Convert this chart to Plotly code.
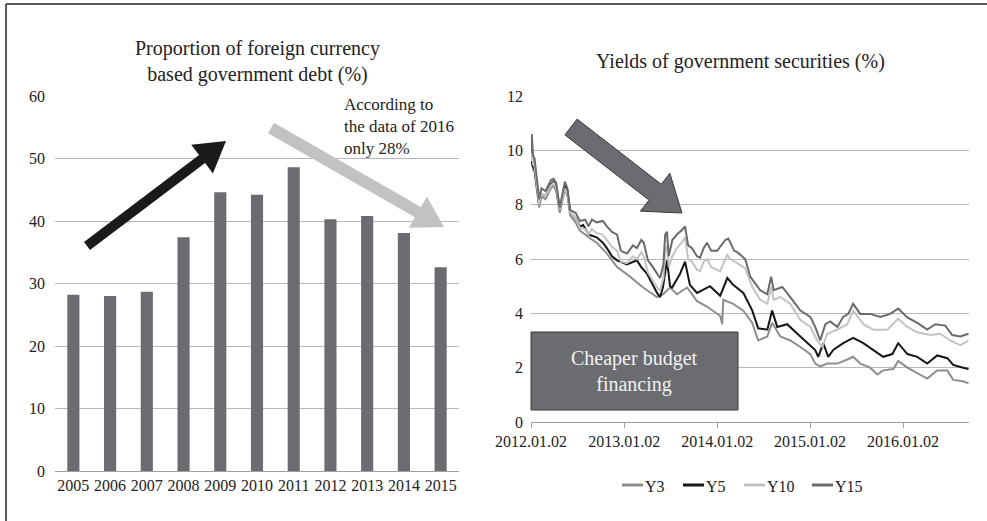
import math
import plotly.graph_objects as go

W, H = 987, 521

# ---------------- data: left chart ----------------
years = ["2005", "2006", "2007", "2008", "2009", "2010", "2011", "2012", "2013", "2014", "2015"]
fx_share = [28.2, 28.0, 28.7, 37.4, 44.6, 44.2, 48.6, 40.3, 40.8, 38.1, 32.6]

# ---------------- data: right chart ----------------
y15_dates = ["2012-01-02", "2012-01-05", "2012-01-10", "2012-01-16", "2012-02-03", "2012-02-12", "2012-02-28",
             "2012-03-20", "2012-03-30", "2012-04-10", "2012-04-24", "2012-05-14", "2012-05-24", "2012-06-04",
             "2012-06-25", "2012-07-12", "2012-08-02", "2012-08-15", "2012-08-28", "2012-09-16", "2012-10-10",
             "2012-10-26", "2012-11-15", "2012-12-05", "2012-12-20", "2013-01-13", "2013-02-05", "2013-02-21",
             "2013-03-10", "2013-03-20", "2013-04-05", "2013-04-25", "2013-05-15", "2013-05-23", "2013-06-05",
             "2013-06-12", "2013-06-19", "2013-06-26", "2013-07-10", "2013-07-28", "2013-08-15", "2013-08-29",
             "2013-09-10", "2013-09-25", "2013-10-15", "2013-10-27", "2013-11-10", "2013-11-23", "2013-12-10",
             "2014-01-02", "2014-01-14", "2014-02-03", "2014-02-15", "2014-02-22", "2014-03-10", "2014-03-22",
             "2014-04-22", "2014-05-12", "2014-06-20", "2014-07-18", "2014-08-02", "2014-08-12", "2014-09-15",
             "2014-10-16", "2014-11-25", "2015-01-03", "2015-01-22", "2015-02-11", "2015-03-03", "2015-03-22",
             "2015-04-19", "2015-05-12", "2015-06-01", "2015-06-20", "2015-07-18", "2015-08-26", "2015-10-05",
             "2015-11-13", "2015-12-14", "2016-01-19", "2016-02-27", "2016-04-06", "2016-05-08", "2016-06-16",
             "2016-07-13", "2016-08-14", "2016-09-15"]
y15_values = [9.9, 10.6, 9.8, 9.7, 8.2, 8.6, 8.5, 8.9, 8.95, 8.8, 7.9, 8.85, 8.6, 7.8,
              7.7, 7.4, 7.45, 7.2, 7.45, 7.35, 7.4, 7.2, 7.0, 6.9, 6.3, 6.2, 6.5, 6.4,
              6.7, 6.6, 5.95, 5.7, 5.4, 5.3, 5.8, 6.9, 7.0, 6.1, 6.7, 6.9, 7.05, 7.2,
              6.5, 6.4, 6.1, 6.05, 6.4, 6.6, 6.3, 6.3, 6.45, 6.7, 6.75, 6.6, 6.3, 6.25,
              6.0, 5.35, 4.85, 4.7, 5.35, 4.85, 4.97, 4.6, 4.1, 3.87, 3.5, 3.0, 3.6, 3.7,
              3.5, 3.87, 3.98, 4.35, 3.98, 3.98, 3.87, 3.98, 4.18, 3.85, 3.65, 3.4, 3.6, 3.55,
              3.2, 3.15, 3.25]

y10_dates = ["2012-01-02", "2012-01-05", "2012-01-10", "2012-01-16", "2012-02-03", "2012-02-12", "2012-02-28",
             "2012-03-20", "2012-03-30", "2012-04-10", "2012-04-24", "2012-05-14", "2012-05-24", "2012-06-04",
             "2012-06-25", "2012-07-12", "2012-08-02", "2012-08-15", "2012-08-28", "2012-09-16", "2012-10-10",
             "2012-10-26", "2012-11-15", "2012-12-05", "2012-12-20", "2013-01-13", "2013-02-05", "2013-02-21",
             "2013-03-10", "2013-03-20", "2013-04-05", "2013-04-25", "2013-05-15", "2013-05-23", "2013-06-05",
             "2013-06-12", "2013-06-19", "2013-06-26", "2013-07-10", "2013-07-28", "2013-08-15", "2013-08-29",
             "2013-09-10", "2013-09-25", "2013-10-15", "2013-10-27", "2013-11-10", "2013-11-23", "2013-12-10",
             "2014-01-02", "2014-01-14", "2014-02-03", "2014-02-11", "2014-02-22", "2014-03-22", "2014-04-22",
             "2014-05-20", "2014-06-20", "2014-07-18", "2014-08-02", "2014-08-12", "2014-09-07", "2014-10-16",
             "2014-11-25", "2015-01-03", "2015-01-30", "2015-02-19", "2015-03-10", "2015-04-19", "2015-05-28",
             "2015-06-20", "2015-07-30", "2015-09-07", "2015-11-01", "2015-12-14", "2016-01-19", "2016-02-27",
             "2016-04-18", "2016-05-27", "2016-07-05", "2016-08-14", "2016-09-15"]
y10_values = [9.6, 10.3, 9.5, 9.4, 8.0, 8.4, 8.3, 8.7, 8.8, 8.6, 7.8, 8.6, 8.4, 7.7,
              7.5, 7.15, 7.1, 6.9, 7.1, 6.95, 6.9, 6.7, 6.45, 6.3, 5.9, 5.85, 6.1, 6.0,
              6.25, 6.1, 5.5, 5.2, 4.9, 4.85, 5.3, 6.3, 6.5, 5.7, 6.1, 6.4, 6.6, 6.8,
              6.0, 5.9, 5.6, 5.55, 5.9, 6.0, 5.7, 5.6, 5.55, 6.0, 6.15, 6.0, 5.85, 5.65,
              4.97, 4.5, 4.35, 4.97, 4.5, 4.6, 4.35, 3.75, 3.5, 3.0, 2.76, 3.25, 3.4, 3.6,
              4.1, 3.6, 3.4, 3.4, 3.8, 3.5, 3.3, 3.2, 3.25, 3.0, 2.83, 3.0]

y5_dates = ["2012-01-02", "2012-01-05", "2012-01-10", "2012-01-16", "2012-02-03", "2012-02-12", "2012-02-28",
            "2012-03-20", "2012-03-30", "2012-04-10", "2012-04-24", "2012-05-14", "2012-05-24", "2012-06-04",
            "2012-06-25", "2012-07-12", "2012-07-25", "2012-08-15", "2012-09-16", "2012-10-10", "2012-10-26",
            "2012-11-15", "2012-12-05", "2013-01-13", "2013-02-21", "2013-03-10", "2013-04-02", "2013-04-25",
            "2013-05-11", "2013-05-23", "2013-06-03", "2013-06-19", "2013-07-01", "2013-07-09", "2013-08-09",
            "2013-08-29", "2013-09-17", "2013-10-15", "2013-11-23", "2013-12-05", "2014-01-14", "2014-02-11",
            "2014-03-06", "2014-04-15", "2014-05-20", "2014-06-12", "2014-07-18", "2014-08-06", "2014-08-26",
            "2014-10-04", "2014-11-13", "2014-12-22", "2015-01-22", "2015-02-03", "2015-02-23", "2015-03-14",
            "2015-04-03", "2015-05-12", "2015-06-20", "2015-07-30", "2015-09-07", "2015-10-16", "2015-11-21",
            "2015-12-14", "2016-01-19", "2016-02-27", "2016-04-06", "2016-05-15", "2016-06-24", "2016-07-17",
            "2016-08-25", "2016-09-15"]
y5_values = [9.5, 10.2, 9.4, 9.3, 8.0, 8.4, 8.3, 8.75, 8.85, 8.6, 7.8, 8.7, 8.5, 7.7,
             7.5, 7.2, 7.25, 6.9, 6.8, 6.6, 6.4, 6.1, 5.95, 5.8, 5.95, 5.7, 5.45, 5.0,
             4.75, 4.6, 4.95, 5.95, 5.0, 4.95, 5.45, 5.9, 5.05, 4.75, 4.95, 5.0, 4.65, 5.3,
             5.05, 4.75, 4.1, 3.45, 3.4, 4.1, 3.5, 3.6, 3.25, 2.9, 2.65, 2.4, 2.9, 2.4,
             2.65, 2.9, 3.1, 2.9, 2.65, 2.4, 2.5, 2.9, 2.5, 2.4, 2.15, 2.45, 2.35, 2.1,
             2.0, 1.95]

y3_dates = ["2012-01-02", "2012-01-05", "2012-01-10", "2012-01-16", "2012-02-03", "2012-02-12", "2012-02-28",
            "2012-03-20", "2012-03-30", "2012-04-10", "2012-04-24", "2012-05-14", "2012-05-24", "2012-06-04",
            "2012-06-25", "2012-07-12", "2012-08-15", "2012-09-16", "2012-10-26", "2012-12-05", "2013-01-25",
            "2013-03-17", "2013-05-11", "2013-06-03", "2013-07-01", "2013-07-28", "2013-09-06", "2013-10-15",
            "2013-11-23", "2013-12-17", "2014-01-14", "2014-01-22", "2014-01-26", "2014-03-06", "2014-04-15",
            "2014-05-20", "2014-06-12", "2014-07-18", "2014-08-06", "2014-09-07", "2014-10-16", "2014-11-25",
            "2015-01-03", "2015-01-22", "2015-02-11", "2015-03-10", "2015-04-19", "2015-05-28", "2015-06-20",
            "2015-07-18", "2015-08-26", "2015-09-23", "2015-10-16", "2015-11-25", "2015-12-14", "2016-01-19",
            "2016-02-27", "2016-04-06", "2016-05-15", "2016-06-24", "2016-07-17", "2016-08-25", "2016-09-15"]
y3_values = [9.4, 10.1, 9.3, 9.2, 7.9, 8.3, 8.2, 8.6, 8.7, 8.5, 7.7, 8.55, 8.35, 7.6,
             7.35, 7.05, 6.8, 6.6, 6.2, 5.7, 5.35, 4.95, 4.6, 4.7, 4.95, 4.7, 4.95, 4.45,
             4.25, 4.1, 3.9, 3.6, 4.5, 4.35, 4.1, 3.65, 3.0, 3.15, 3.65, 3.15, 3.0, 2.76,
             2.5, 2.15, 2.05, 2.15, 2.15, 2.3, 2.4, 2.15, 2.0, 1.75, 1.9, 1.95, 2.25, 2.0,
             1.8, 1.6, 1.9, 1.9, 1.55, 1.5, 1.42]

date_ticks = ["2012-01-02", "2013-01-02", "2014-01-02", "2015-01-02", "2016-01-02"]
date_tick_labels = ["2012.01.02", "2013.01.02", "2014.01.02", "2015.01.02", "2016.01.02"]

series_names = ["Y3", "Y5", "Y10", "Y15"]
series_dates = [y3_dates, y5_dates, y10_dates, y15_dates]
series_values = [y3_values, y5_values, y10_values, y15_values]
series_colors = ["#8e8e90", "#161616", "#c3c3c5", "#6a6a6d"]

FONT = "Liberation Serif"
TXT = "#222222"
BAR = "#6b6c70"
GRID = "#b8b8b8"
TICKFONT = dict(family=FONT, size=16, color=TXT)


def px(x):
    return x / W


def py(y):
    return 1 - y / H


fig = go.Figure()

fig.add_trace(go.Bar(x=years, y=fx_share, marker=dict(color=BAR, line=dict(width=0)),
                     showlegend=False, xaxis="x", yaxis="y"))

for name, d, v, c in zip(series_names, series_dates, series_values, series_colors):
    fig.add_trace(go.Scatter(x=d, y=v, mode="lines", name=name, line=dict(color=c, width=2),
                             showlegend=False, xaxis="x2", yaxis="y2"))


def arrow_path(tail, tip, sw, hw, hl):
    dx, dy = tip[0] - tail[0], tip[1] - tail[1]
    L = math.hypot(dx, dy)
    ux, uy = dx / L, dy / L
    nx, ny = -uy, ux
    neck = (tip[0] - ux * hl, tip[1] - uy * hl)
    pts = [
        (tail[0] + nx * sw / 2, tail[1] + ny * sw / 2),
        (neck[0] + nx * sw / 2, neck[1] + ny * sw / 2),
        (neck[0] + nx * hw / 2, neck[1] + ny * hw / 2),
        tip,
        (neck[0] - nx * hw / 2, neck[1] - ny * hw / 2),
        (neck[0] - nx * sw / 2, neck[1] - ny * sw / 2),
        (tail[0] - nx * sw / 2, tail[1] - ny * sw / 2),
    ]
    return "M " + " L ".join(f"{px(a):.5f},{py(b):.5f}" for a, b in pts) + " Z"


shapes = [
    # page frame
    dict(type="line", xref="paper", yref="paper", x0=px(6), x1=1, y0=py(4), y1=py(4),
         line=dict(color="#5a5a5a", width=2)),
    dict(type="line", xref="paper", yref="paper", x0=px(6), x1=px(6), y0=py(4), y1=0,
         line=dict(color="#5a5a5a", width=2)),
    # arrows
    dict(type="path", xref="paper", yref="paper", path=arrow_path((87, 246), (226, 141), 10, 36, 30),
         fillcolor="#1a1a1a", line=dict(width=0)),
    dict(type="path", xref="paper", yref="paper", path=arrow_path((271, 128), (444, 227), 12, 36, 30),
         fillcolor="#c2c2c4", line=dict(width=0)),
    dict(type="path", xref="paper", yref="paper", path=arrow_path((571, 127), (682, 213), 20, 48, 34),
         fillcolor="#6b6c70", line=dict(color="#3a3a3a", width=1)),
    # box
    dict(type="rect", xref="paper", yref="paper", x0=px(531), x1=px(738), y0=py(410), y1=py(332),
         fillcolor="#6b6c70", line=dict(color="#3a3a3a", width=1)),
]

annotations = [
    dict(text="Proportion of foreign currency<br>based government debt (%)", x=px(257), y=py(61),
         xref="paper", yref="paper", showarrow=False, font=dict(family=FONT, size=20, color=TXT),
         xanchor="center", yanchor="middle"),
    dict(text="Yields of government securities (%)", x=px(740), y=py(62),
         xref="paper", yref="paper", showarrow=False, font=dict(family=FONT, size=20, color=TXT),
         xanchor="center", yanchor="middle"),
    dict(text="According to<br>the data of 2016<br>only 28%", x=px(342), y=py(126),
         xref="paper", yref="paper", showarrow=False, align="left",
         font=dict(family=FONT, size=17, color=TXT), xanchor="left", yanchor="middle"),
    dict(text="Cheaper budget<br>financing", x=px(634), y=py(371),
         xref="paper", yref="paper", showarrow=False, align="center",
         font=dict(family=FONT, size=20, color="#f2f2f2"), xanchor="center", yanchor="middle"),
]

# custom legend: short line swatch followed by name
legend_line_x = [622, 683, 744, 812]
for name, c, lx in zip(series_names, series_colors, legend_line_x):
    shapes.append(dict(type="line", xref="paper", yref="paper", x0=px(lx), x1=px(lx + 21),
                       y0=py(485), y1=py(485), line=dict(color=c, width=3)))
    annotations.append(dict(text=name, x=px(lx + 21), y=py(486), xref="paper", yref="paper",
                            showarrow=False, xanchor="left", yanchor="middle",
                            font=dict(family=FONT, size=16, color=TXT)))

fig.update_layout(
    width=W, height=H, autosize=False,
    margin=dict(l=0, r=0, t=0, b=0),
    paper_bgcolor="white", plot_bgcolor="white",
    font=dict(family=FONT, size=15, color=TXT),
    bargap=0.67,
    showlegend=False,
    xaxis=dict(domain=[px(55), px(459)], type="category", showgrid=False, showline=True,
               linecolor="#a0a0a0", linewidth=1, ticks="", tickfont=TICKFONT, anchor="y",
               automargin=False),
    yaxis=dict(domain=[py(471), py(96)], range=[0, 60], dtick=10, showgrid=True, gridcolor=GRID,
               zeroline=False, showline=False, tickfont=TICKFONT, ticklabelstandoff=9, anchor="x",
               automargin=False),
    xaxis2=dict(domain=[px(531), px(969)], type="date", range=["2012-01-02", "2016-09-17"],
                tickvals=date_ticks, ticktext=date_tick_labels, showgrid=False, showline=True,
                linecolor="#a0a0a0", linewidth=1, ticks="outside", ticklen=5, tickcolor="#a0a0a0",
                tickfont=TICKFONT, anchor="y2", automargin=False),
    yaxis2=dict(domain=[py(422), py(96)], range=[0, 12], dtick=2, showgrid=True, gridcolor=GRID,
                zeroline=False, showline=False, tickfont=TICKFONT, ticklabelstandoff=7, anchor="x2",
                automargin=False),
    shapes=shapes,
    annotations=annotations,
)

fig.write_html("out.html", config={"displayModeBar": False},
               post_script="document.body.style.margin='0';")
